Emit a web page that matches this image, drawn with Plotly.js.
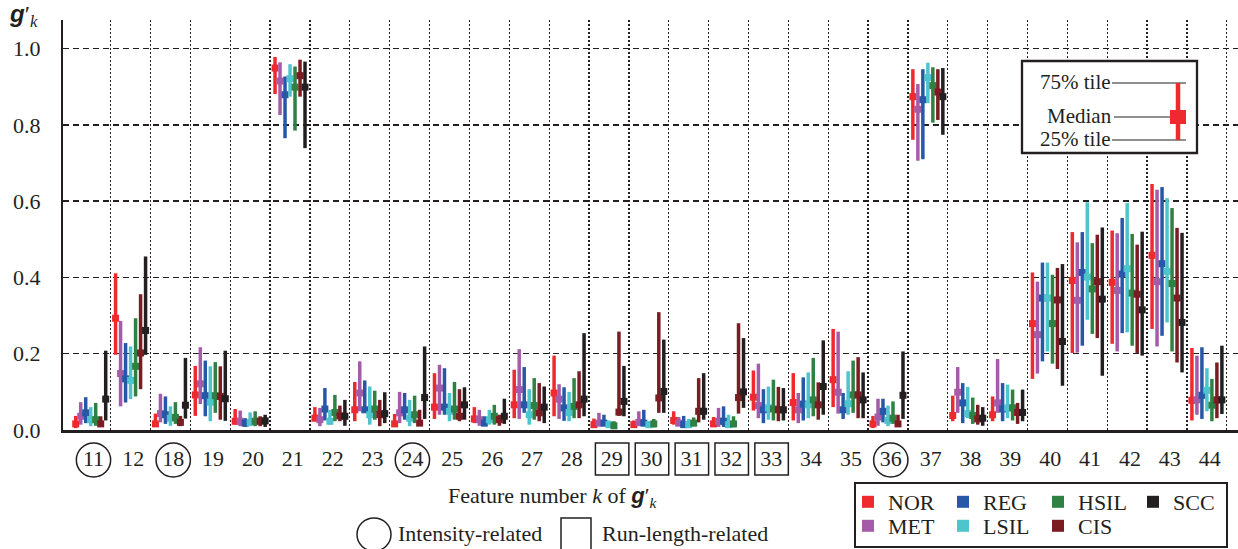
<!DOCTYPE html>
<html><head><meta charset="utf-8">
<script src="https://cdn.plot.ly/plotly-3.0.1.min.js"></script>
<style>html,body{margin:0;padding:0;background:#fff}#chart{width:1238px;height:549px}</style>
</head><body><div id="chart"></div>
<script>
// ---- data ----
const features = [11,12,18,19,20,21,22,23,24,25,26,27,28,29,30,31,32,33,34,35,36,37,38,39,40,41,42,43,44];
const circledFeatures = [11,18,24,36];
const boxedFeatures = [29,30,31,32,33];
const classNames = ['NOR','MET','REG','LSIL','HSIL','CIS','SCC'];
const classColors = ['#EE2A2F','#A55CA8','#2857A7','#4EC4CC','#2F8043','#7B1C22','#231F20'];
const yTickVals = [0,0.2,0.4,0.6,0.8,1.0];
const yTickText = ['0.0','0.2','0.4','0.6','0.8','1.0'];

const norQ3  = [0.037,0.411,0.043,0.168,0.055,0.978,0.060,0.126,0.042,0.149,0.060,0.158,0.195,0.030,0.025,0.049,0.034,0.156,0.149,0.265,0.037,0.946,0.090,0.088,0.413,0.519,0.523,0.645,0.215];
const norMed = [0.016,0.293,0.016,0.092,0.023,0.949,0.031,0.053,0.016,0.060,0.029,0.066,0.097,0.014,0.014,0.025,0.016,0.086,0.072,0.132,0.016,0.874,0.038,0.040,0.279,0.392,0.387,0.458,0.078];
const norQ1  = [0.005,0.197,0.008,0.037,0.014,0.881,0.023,0.023,0.008,0.029,0.018,0.031,0.036,0.008,0.008,0.014,0.008,0.051,0.025,0.060,0.005,0.761,0.023,0.023,0.134,0.202,0.226,0.265,0.025];

const metQ3  = [0.073,0.286,0.095,0.217,0.051,0.964,0.058,0.180,0.100,0.171,0.053,0.212,0.120,0.045,0.049,0.034,0.058,0.174,0.097,0.258,0.082,0.907,0.165,0.186,0.389,0.492,0.516,0.630,0.195];
const metMed = [0.036,0.148,0.043,0.121,0.023,0.915,0.027,0.097,0.045,0.110,0.027,0.106,0.081,0.018,0.020,0.018,0.023,0.064,0.053,0.099,0.034,0.841,0.099,0.071,0.250,0.340,0.366,0.389,0.079];
const metQ1  = [0.014,0.062,0.020,0.068,0.010,0.826,0.010,0.049,0.018,0.040,0.011,0.029,0.029,0.010,0.010,0.010,0.008,0.031,0.018,0.043,0.011,0.706,0.045,0.045,0.148,0.203,0.206,0.219,0.040];

const regQ3  = [0.086,0.228,0.088,0.182,0.031,0.927,0.110,0.130,0.097,0.162,0.036,0.165,0.112,0.040,0.053,0.037,0.062,0.107,0.138,0.097,0.082,0.946,0.123,0.123,0.439,0.519,0.556,0.637,0.217];
const regMed = [0.045,0.134,0.040,0.090,0.018,0.879,0.055,0.053,0.053,0.060,0.018,0.066,0.058,0.018,0.018,0.014,0.023,0.053,0.068,0.053,0.049,0.866,0.071,0.055,0.346,0.413,0.409,0.436,0.091];
const regQ1  = [0.018,0.072,0.016,0.036,0.008,0.765,0.025,0.045,0.027,0.040,0.010,0.045,0.024,0.010,0.010,0.008,0.008,0.018,0.025,0.029,0.020,0.710,0.018,0.023,0.180,0.221,0.254,0.247,0.029];

const lsilQ3  = [0.060,0.219,0.062,0.167,0.046,0.959,0.053,0.114,0.079,0.097,0.053,0.107,0.100,0.025,0.023,0.029,0.040,0.114,0.151,0.154,0.064,0.963,0.113,0.119,0.439,0.597,0.595,0.608,0.162];
const lsilMed = [0.027,0.130,0.031,0.073,0.020,0.921,0.023,0.040,0.031,0.049,0.027,0.040,0.046,0.014,0.014,0.014,0.014,0.058,0.066,0.069,0.025,0.924,0.043,0.058,0.346,0.401,0.423,0.416,0.104];
const lsilQ1  = [0.010,0.081,0.011,0.023,0.010,0.874,0.014,0.014,0.010,0.023,0.014,0.014,0.023,0.008,0.007,0.005,0.008,0.027,0.031,0.040,0.010,0.857,0.031,0.031,0.206,0.289,0.256,0.282,0.049];

const hsilQ3  = [0.071,0.293,0.073,0.178,0.049,0.953,0.092,0.103,0.090,0.126,0.066,0.136,0.136,0.023,0.029,0.033,0.036,0.132,0.189,0.182,0.075,0.951,0.085,0.106,0.407,0.490,0.514,0.582,0.134];
const hsilMed = [0.027,0.167,0.033,0.090,0.023,0.899,0.046,0.055,0.040,0.055,0.036,0.064,0.062,0.011,0.016,0.018,0.016,0.055,0.079,0.092,0.031,0.903,0.038,0.058,0.279,0.370,0.359,0.384,0.065];
const hsilQ1  = [0.011,0.088,0.016,0.045,0.010,0.785,0.023,0.027,0.018,0.027,0.014,0.027,0.031,0.007,0.007,0.010,0.007,0.025,0.036,0.045,0.016,0.806,0.016,0.025,0.174,0.252,0.221,0.206,0.023];

const cisQ3  = [0.036,0.356,0.037,0.167,0.036,0.971,0.064,0.079,0.053,0.107,0.040,0.123,0.154,0.258,0.309,0.136,0.280,0.113,0.125,0.191,0.040,0.946,0.066,0.071,0.425,0.512,0.486,0.530,0.177];
const cisMed = [0.016,0.202,0.020,0.088,0.023,0.929,0.037,0.040,0.018,0.036,0.027,0.045,0.066,0.047,0.084,0.049,0.085,0.053,0.066,0.092,0.016,0.886,0.029,0.046,0.341,0.389,0.356,0.346,0.079];
const cisQ1  = [0.008,0.107,0.010,0.027,0.010,0.874,0.023,0.010,0.011,0.023,0.011,0.023,0.031,0.037,0.045,0.020,0.043,0.023,0.027,0.031,0.008,0.813,0.014,0.016,0.160,0.241,0.202,0.177,0.031];

const sccQ3  = [0.208,0.455,0.189,0.208,0.040,0.966,0.079,0.099,0.219,0.112,0.082,0.114,0.254,0.168,0.237,0.149,0.241,0.110,0.235,0.151,0.206,0.949,0.060,0.106,0.435,0.531,0.520,0.517,0.221];
const sccMed = [0.081,0.261,0.065,0.082,0.024,0.899,0.036,0.043,0.085,0.066,0.036,0.060,0.081,0.075,0.101,0.049,0.100,0.053,0.114,0.079,0.091,0.874,0.031,0.046,0.232,0.343,0.315,0.282,0.079];
const sccQ1  = [0.025,0.197,0.030,0.024,0.008,0.739,0.011,0.018,0.029,0.027,0.016,0.018,0.036,0.036,0.045,0.027,0.058,0.025,0.040,0.031,0.029,0.774,0.011,0.023,0.116,0.142,0.195,0.151,0.042];

const seriesQ3  = [norQ3, metQ3, regQ3, lsilQ3, hsilQ3, cisQ3, sccQ3];
const seriesMed = [norMed, metMed, regMed, lsilMed, hsilMed, cisMed, sccMed];
const seriesQ1  = [norQ1, metQ1, regQ1, lsilQ1, hsilQ1, cisQ1, sccQ1];

// ---- layout helpers ----
const W = 1238, H = 549;
const M = {l: 63, r: 0, t: 20, b: 119};
const PW = W - M.l - M.r, PH = H - M.t - M.b;
const px = x => (x - M.l) / PW;
const py = y => (H - M.b - y) / PH;
const INK = '#231F20';
const SERIF = 'Liberation Serif, Times New Roman, serif';
const slot = 0.1254;
const labelShift = 0.07;

const idx = features.map((_, i) => i);
const traces = classNames.map((name, c) => ({
  type: 'scatter', mode: 'markers', name: name,
  x: idx.map(i => i + (c - 3) * slot),
  y: seriesMed[c],
  error_y: {type: 'data', symmetric: false,
    array: seriesQ3[c].map((v, i) => v - seriesMed[c][i]),
    arrayminus: seriesMed[c].map((v, i) => v - seriesQ1[c][i]),
    color: classColors[c], thickness: 3.5, width: 0},
  marker: {symbol: 'square', size: 7, color: classColors[c]},
  legend: (c % 2 === 0) ? 'legend' : 'legend2',
  hoverinfo: 'skip'
}));

const shapes = [];
const annotations = [];
// circles / boxes around tick labels
features.forEach((f, i) => {
  if (circledFeatures.includes(f)) {
    shapes.push({type: 'circle', xref: 'x', yref: 'paper', x0: i + labelShift - 0.43, x1: i + labelShift + 0.43,
      y0: py(477), y1: py(443), line: {color: INK, width: 1.5}});
  }
  if (boxedFeatures.includes(f)) {
    shapes.push({type: 'rect', xref: 'x', yref: 'paper', x0: i + 0.08 - 0.42, x1: i + 0.08 + 0.42,
      y0: py(475), y1: py(443), line: {color: INK, width: 1.5}});
  }
});
// inset legend box
shapes.push({type: 'rect', xref: 'paper', yref: 'paper', x0: px(1022), x1: px(1197), y0: py(153), y1: py(61),
  fillcolor: '#fff', line: {color: INK, width: 2.3}});
[[83, 1112, 1186], [117, 1114, 1172], [140, 1112, 1186]].forEach(([y, a, b]) => {
  shapes.push({type: 'line', xref: 'paper', yref: 'paper', x0: px(a), x1: px(b), y0: py(y), y1: py(y), line: {color: INK, width: 1}});
});
shapes.push({type: 'line', xref: 'paper', yref: 'paper', x0: px(1178), x1: px(1178), y0: py(83), y1: py(140), line: {color: classColors[0], width: 4.5}});
shapes.push({type: 'rect', xref: 'paper', yref: 'paper', x0: px(1170), x1: px(1186), y0: py(124), y1: py(110), fillcolor: classColors[0], line: {width: 0}});
// bottom-right legend frame
shapes.push({type: 'rect', xref: 'paper', yref: 'paper', x0: px(855), x1: px(1227), y0: py(547), y1: py(483), line: {color: INK, width: 2}});
// bottom key icons
shapes.push({type: 'circle', xref: 'paper', yref: 'paper', x0: px(357), x1: px(391), y0: py(551), y1: py(518), line: {color: INK, width: 1.5}});
shapes.push({type: 'rect', xref: 'paper', yref: 'paper', x0: px(561), x1: px(591), y0: py(551), y1: py(518), line: {color: INK, width: 1.5}});

const txt = (x, y, text, anchor, size) => ({xref: 'paper', yref: 'paper', x: px(x), y: py(y), text: text,
  xanchor: anchor || 'left', yanchor: 'middle', showarrow: false, borderpad: 0,
  font: {family: SERIF, size: size || 22, color: INK}});
annotations.push(txt(1112, 82, '75% tile', 'right', 21));
annotations.push(txt(1113, 116, 'Median', 'right', 21));
annotations.push(txt(1112, 139, '25% tile', 'right', 21));
const gk = '<span style="font-family:Liberation Sans"><b><i>g</i></b></span>′<sub><i>k</i></sub>';
annotations.push(txt(553, 497, 'Feature number <i>k</i> of ' + gk, 'center'));
annotations.push(txt(397, 533, 'Intensity-related', 'left'));
annotations.push(txt(601, 533, 'Run-length-related', 'left'));
annotations.push(txt(8, 16, gk, 'left', 24));

const legendBase = {orientation: 'h', xanchor: 'left', yanchor: 'middle', bgcolor: 'rgba(0,0,0,0)',
  borderwidth: 0, entrywidth: 50, itemsizing: 'constant', font: {family: SERIF, size: 22, color: INK},
  itemclick: false, itemdoubleclick: false};

const layout = {
  width: W, height: H, margin: M, paper_bgcolor: '#fff', plot_bgcolor: '#fff',
  showlegend: true,
  legend: Object.assign({}, legendBase, {x: px(848), y: py(502)}),
  legend2: Object.assign({}, legendBase, {x: px(848), y: py(526)}),
  xaxis: {range: [-0.695, 28.78], tickmode: 'array', tickvals: idx.map(i => i + labelShift), ticktext: features.map(String),
    showgrid: false, zeroline: false, showline: true, linecolor: INK, linewidth: 2.5, ticks: '',
    ticklabelstandoff: 7, tickfont: {family: SERIF, size: 22, color: INK}, fixedrange: true,
    minor: {tickmode: 'array', tickvals: idx.map(i => i + 0.5), showgrid: true, gridcolor: INK,
      griddash: '2px,2px', gridwidth: 1.3, ticks: ''}},
  yaxis: {range: [0, 1.075], tickmode: 'array', tickvals: yTickVals, ticktext: yTickText,
    showgrid: true, gridcolor: INK, griddash: '6px,4px', gridwidth: 1.5, zeroline: false,
    showline: true, linecolor: INK, linewidth: 2, ticks: '', ticklabelstandoff: 16,
    tickfont: {family: SERIF, size: 22, color: INK}, fixedrange: true},
  shapes: shapes, annotations: annotations
};

Plotly.newPlot('chart', traces, layout, {displayModeBar: false, staticPlot: true});
</script></body></html>
